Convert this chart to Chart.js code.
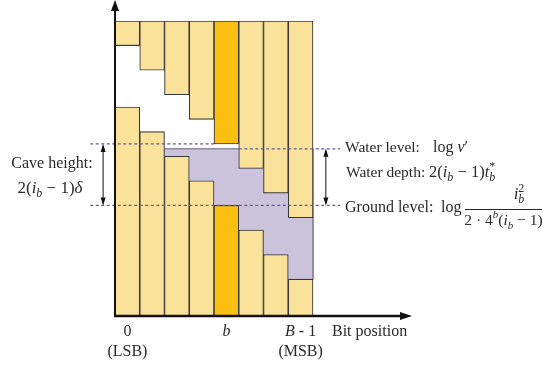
<!DOCTYPE html>
<html>
<head>
<meta charset="utf-8">
<script src="https://cdn.jsdelivr.net/npm/chart.js@4"></script>
<style>
  html, body { margin: 0; padding: 0; background: #fff; }
</style>
</head>
<body>
<canvas id="cave" width="543" height="371"></canvas>
<script>
// bit columns 0 .. B-1, each one centred on i + 0.5
const bitPos = [0.5, 1.5, 2.5, 3.5, 4.5, 5.5, 6.5, 7.5];
const upperBottom = [11, 10, 9, 8, 7, 6, 5, 4];          // ceiling bars hang down to here
const lowerTop = [8.5, 7.5, 6.5, 5.5, 4.5, 3.5, 2.5, 1.5]; // floor bars rise up to here
const topLevel = 12;
const highlightBit = 4;

// levels marked by the dashed lines
const caveTop = 7;
const waterLevel = 6.8;
const groundLevel = 4.5;

// tick labels under the axis
const tickPos = [0.5, 4.5, 7.5];
const tickMain = ['0', 'b', 'B - 1'];
const tickSub = ['(LSB)', '', '(MSB)'];

const YELLOW = '#fae29b';
const ORANGE = '#fbbf12';
const WATER = '#cbc3dc';
const EDGE = '#383838';
const DASH = '#6a5898';
const TEXT = '#2a2a2a';
const SERIF = '"Liberation Serif", "DejaVu Serif", serif';

const colours = bitPos.map((x, i) => i === highlightBit ? ORANGE : YELLOW);

const upperBars = bitPos.map((x, i) => ({ x: x, y: [upperBottom[i], topLevel] }));
const lowerBars = bitPos.map((x, i) => ({ x: x, y: [0, lowerTop[i]] }));
const waterBars = bitPos
    .map((x, i) => ({ x: x, y: [lowerTop[i], waterLevel] }))
    .filter(d => d.y[0] < waterLevel);

// helper: math-ish text with italics, sub and superscripts
function P(t, opt) { return Object.assign({ t: t }, opt || {}); }

function drawRun(ctx, x, y, parts, size, align) {
    let end = 0, prevStart = 0;
    const items = parts.map(p => {
        const sz = p.s ? Math.round(size * 0.7) : size;
        const font = (p.i ? 'italic ' : '') + sz + 'px ' + SERIF;
        ctx.font = font;
        const w = ctx.measureText(p.t).width;
        const start = p.k ? prevStart : end;
        prevStart = start;
        end = Math.max(end, start + w);
        const dy = p.s === 'sub' ? size * 0.3 : (p.s === 'sup' ? -size * 0.36 : 0);
        return { t: p.t, font: font, start: start, dy: dy };
    });
    const ox = align === 'center' ? x - end / 2 : (align === 'right' ? x - end : x);
    items.forEach(it => {
        ctx.font = it.font;
        ctx.fillText(it.t, ox + it.start, y + it.dy);
    });
    return end;
}

function vArrow(ctx, x, y1, y2) {
    ctx.beginPath();
    ctx.moveTo(x, y1 + 2);
    ctx.lineTo(x, y2 - 2);
    ctx.stroke();
    ctx.beginPath();
    ctx.moveTo(x, y1); ctx.lineTo(x - 2.5, y1 + 8); ctx.lineTo(x + 2.5, y1 + 8); ctx.closePath();
    ctx.moveTo(x, y2); ctx.lineTo(x - 2.5, y2 - 8); ctx.lineTo(x + 2.5, y2 - 8); ctx.closePath();
    ctx.fill();
}

const decorations = {
    id: 'decorations',
    afterDraw(chart) {
        const ctx = chart.ctx;
        const xs = chart.scales.x;
        const ys = chart.scales.y;
        const x0 = xs.getPixelForValue(0);
        const y0 = ys.getPixelForValue(0);
        const xEnd = xs.getPixelForValue(12);

        ctx.save();
        ctx.fillStyle = '#111';
        ctx.strokeStyle = '#111';

        // axes with arrow heads
        ctx.lineWidth = 2;
        ctx.beginPath();
        ctx.moveTo(x0, y0 + 1);
        ctx.lineTo(x0, 8);
        ctx.stroke();
        ctx.beginPath();
        ctx.moveTo(x0, 0); ctx.lineTo(x0 - 4, 11); ctx.lineTo(x0 + 4, 11); ctx.closePath();
        ctx.fill();

        ctx.lineWidth = 2.5;
        ctx.beginPath();
        ctx.moveTo(x0 - 1, y0);
        ctx.lineTo(xEnd - 8, y0);
        ctx.stroke();
        ctx.beginPath();
        ctx.moveTo(xEnd, y0); ctx.lineTo(xEnd - 12, y0 - 4); ctx.lineTo(xEnd - 12, y0 + 4); ctx.closePath();
        ctx.fill();

        // double arrows for cave height and water depth
        ctx.lineWidth = 1;
        vArrow(ctx, xs.getPixelForValue(-0.48), ys.getPixelForValue(caveTop), ys.getPixelForValue(groundLevel));
        vArrow(ctx, xs.getPixelForValue(8.52), ys.getPixelForValue(waterLevel), ys.getPixelForValue(groundLevel));

        // tick labels
        ctx.fillStyle = TEXT;
        ctx.textBaseline = 'middle';
        ctx.textAlign = 'left';
        tickPos.forEach((v, i) => {
            const px = xs.getPixelForValue(v);
            let parts;
            if (tickMain[i] === 'b') parts = [P('b', { i: true })];
            else if (tickMain[i].startsWith('B')) parts = [P('B', { i: true }), P(tickMain[i].slice(1))];
            else parts = [P(tickMain[i])];
            drawRun(ctx, px, 332, parts, 16, 'center');
            if (tickSub[i]) drawRun(ctx, px, 352, [P(tickSub[i])], 16, 'center');
        });
        drawRun(ctx, 332, 332, [P('Bit position')], 16, 'left');

        // cave height label
        drawRun(ctx, 52, 164, [P('Cave height:')], 16, 'center');
        drawRun(ctx, 50, 189, [P('2('), P('i', { i: true }), P('b', { i: true, s: 'sub' }),
            P(' \u2212 1)'), P('\u03b4', { i: true })], 17, 'center');

        // right hand labels
        drawRun(ctx, 345, 148, [P('Water level:')], 15.5, 'left');
        drawRun(ctx, 433, 148, [P('log '), P('\u03bd', { i: true }), P('\u2032')], 16, 'left');

        drawRun(ctx, 346, 173, [P('Water depth:')], 15.5, 'left');
        drawRun(ctx, 429, 173, [P('2('), P('i', { i: true }), P('b', { i: true, s: 'sub' }),
            P(' \u2212 1)'), P('t', { i: true }), P('b', { i: true, s: 'sub' }),
            P('*', { s: 'sup', k: true })], 16.5, 'left');

        drawRun(ctx, 345, 208, [P('Ground level:')], 16, 'left');
        drawRun(ctx, 441, 208, [P('log')], 16, 'left');
        ctx.lineWidth = 1;
        ctx.strokeStyle = TEXT;
        ctx.beginPath();
        ctx.moveTo(465, 209.5);
        ctx.lineTo(542, 209.5);
        ctx.stroke();
        drawRun(ctx, 519, 195, [P('i', { i: true }), P('b', { i: true, s: 'sub' }),
            P('2', { s: 'sup', k: true })], 17, 'center');
        drawRun(ctx, 503.5, 221, [P('2 \u00b7 4'), P('b', { i: true, s: 'sup' }), P('('),
            P('i', { i: true }), P('b', { i: true, s: 'sub' }), P(' \u2212 1)')], 15.5, 'center');

        ctx.restore();
    }
};

function levelLine(label, from, to, level, dashed, colour) {
    return {
        type: 'line',
        label: label,
        data: [{ x: from, y: level }, { x: to, y: level }],
        borderColor: colour,
        borderWidth: dashed ? 1.4 : 1,
        borderDash: dashed ? [3, 2.5] : [],
        pointRadius: 0,
        clip: false,
        order: dashed ? 0 : 2.5
    };
}

const barStyle = {
    borderColor: EDGE,
    borderWidth: 1.1,
    borderSkipped: false,
    grouped: false,
    barPercentage: 1,
    categoryPercentage: 1
};

new Chart(document.getElementById('cave'), {
    type: 'bar',
    data: {
        datasets: [
            Object.assign({ label: 'ceiling', data: upperBars, backgroundColor: colours, order: 1 }, barStyle),
            Object.assign({ label: 'floor', data: lowerBars, backgroundColor: colours, order: 2 }, barStyle),
            {
                label: 'water',
                data: waterBars,
                backgroundColor: WATER,
                borderWidth: 0,
                inflateAmount: 0.6,
                grouped: false,
                barPercentage: 1,
                categoryPercentage: 1,
                order: 3
            },
            // surface of the water and its right wall
            levelLine('water surface', 2, 8, waterLevel, false, '#6f6884'),
            {
                type: 'line',
                label: 'water wall',
                data: [{ x: 8, y: waterLevel }, { x: 8, y: lowerTop[7] }],
                borderColor: '#8a83a0',
                borderWidth: 1,
                pointRadius: 0,
                clip: false,
                order: 2.5
            },
            levelLine('cave top', -1, 4, caveTop, true, DASH),
            levelLine('water level', 5, 9.1, waterLevel, true, DASH),
            levelLine('ground level', -1, 9.1, groundLevel, true, DASH)
        ]
    },
    options: {
        responsive: false,
        animation: false,
        devicePixelRatio: 1,
        events: [],
        layout: {
            padding: { left: 115, right: 131, top: 21, bottom: 55 }
        },
        scales: {
            x: {
                type: 'linear',
                display: false,
                min: 0,
                max: 12,
                offset: false,
                ticks: { stepSize: 1 }
            },
            y: {
                display: false,
                min: 0,
                max: topLevel
            }
        },
        plugins: {
            legend: { display: false },
            tooltip: { enabled: false }
        }
    },
    plugins: [decorations]
});
</script>
</body>
</html>
